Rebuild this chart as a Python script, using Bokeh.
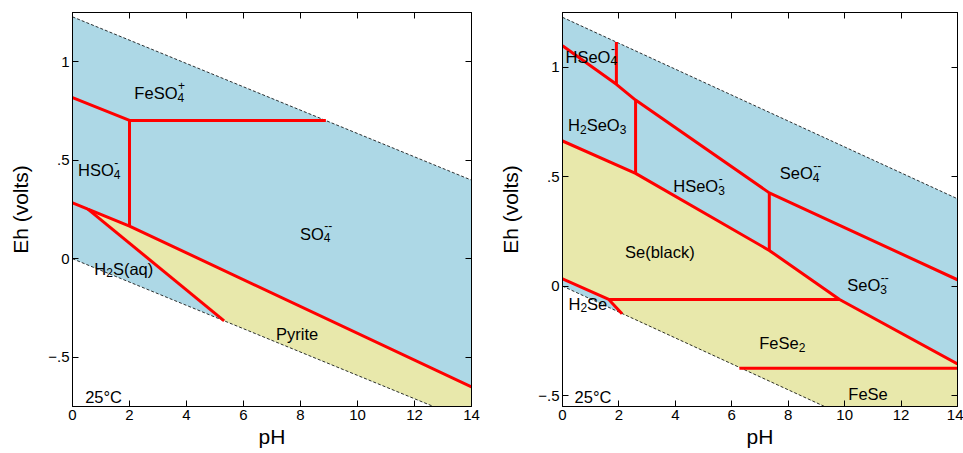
from bokeh.plotting import figure
from bokeh.layouts import row
from bokeh.models import LinearAxis, FixedTicker, Range1d
from bokeh.core.properties import value
from bokeh.embed import file_html
from bokeh.resources import INLINE

FONT = "Liberation Sans"

# ---------------- data: left diagram (Fe-S) ----------------
water_ph = [0, 14]
water_upper = [1.228, 0.399]
water_lower = [0.0, -0.829]

L_fe_ph = [0, 2, 8.89]
L_fe_eh = [0.818, 0.702, 0.702]
L_vert_ph = [2, 2]
L_vert_eh = [0.702, 0.166]
L_pyr_ph = [0, 0.54, 2, 14]
L_pyr_eh = [0.284, 0.252, 0.166, -0.651]
L_h2s_ph = [0.54, 5.32]
L_h2s_eh = [0.252, -0.315]
L_yellow_ph = [0.54, 2, 14, 14, 5.32]
L_yellow_eh = [0.252, 0.166, -0.651, -0.829, -0.315]

L_label_x = [3.05, 0.94, 8.54, 1.8, 7.88, 1.09]
L_label_y = [0.871, 0.48, 0.156, -0.02, -0.354, -0.673]
L_label_parts = [
    [("FeSO", "4", "+")],
    [("HSO", "4", "-")],
    [("SO", "4", "--")],
    [("H", "2", ""), ("S(aq)", "", "")],
    [("Pyrite", "", "")],
    [("25°C", "", "")],
]

# ---------------- data: right diagram (Fe-Se) ----------------
R_ox_ph = [0, 1.91, 2.59, 7.33, 14]
R_ox_eh = [1.098, 0.922, 0.850, 0.426, 0.029]
R_v1_ph = [1.91, 1.91]
R_v1_eh = [1.115, 0.922]
R_v2_ph = [2.59, 2.59]
R_v2_eh = [0.850, 0.515]
R_v3_ph = [7.33, 7.33]
R_v3_eh = [0.426, 0.163]
R_se_ph = [0, 2.59, 7.33, 9.82, 14]
R_se_eh = [0.663, 0.515, 0.163, -0.061, -0.355]
R_fese2_ph = [1.64, 9.82]
R_fese2_eh = [-0.061, -0.061]
R_h2se_ph = [0, 1.64, 2.11]
R_h2se_eh = [0.033, -0.061, -0.126]
R_fese_ph = [6.27, 14]
R_fese_eh = [-0.375, -0.375]
R_yellow_ph = [0, 2.59, 7.33, 9.82, 14, 14, 2.11, 1.64, 0]
R_yellow_eh = [0.663, 0.515, 0.163, -0.061, -0.355, -0.829, -0.126, -0.061, 0.033]

R_label_x = [1.02, 1.23, 4.84, 8.43, 10.82, 7.79, 10.83, 3.45, 0.90, 1.08]
R_label_y = [1.075, 0.762, 0.483, 0.542, 0.031, -0.235, -0.467, 0.181, -0.054, -0.478]
R_label_parts = [
    [("HSeO", "4", "-")],
    [("H", "2", ""), ("SeO", "3", "")],
    [("HSeO", "3", "-")],
    [("SeO", "4", "--")],
    [("SeO", "3", "--")],
    [("FeSe", "2", "")],
    [("FeSe", "", "")],
    [("Se(black)", "", "")],
    [("H", "2", ""), ("Se", "", "")],
    [("25°C", "", "")],
]

x_ticks = [0, 2, 4, 6, 8, 10, 12, 14]
y_ticks = [-0.5, 0, 0.5, 1]
y_tick_labels = {-0.5: "\u2212.5", 0: "0", 0.5: ".5", 1: "1"}

BLUE = "#ADD8E6"
YELLOW = "#E8E8AB"
RED = "#FF0000"

W = {
    'A': .667, 'B': .667, 'C': .722, 'D': .722, 'E': .667, 'F': .611, 'G': .778, 'H': .722,
    'I': .278, 'J': .5, 'K': .667, 'L': .556, 'M': .833, 'N': .722, 'O': .778, 'P': .667,
    'Q': .778, 'R': .722, 'S': .667, 'T': .611, 'U': .722, 'V': .667, 'W': .944, 'X': .667,
    'Y': .667, 'Z': .611, 'a': .556, 'b': .556, 'c': .5, 'd': .556, 'e': .556, 'f': .278,
    'g': .556, 'h': .556, 'i': .222, 'j': .222, 'k': .5, 'l': .222, 'm': .833, 'n': .556,
    'o': .556, 'p': .556, 'q': .556, 'r': .333, 's': .5, 't': .278, 'u': .556, 'v': .5,
    'w': .722, 'x': .5, 'y': .5, 'z': .5, ' ': .278, '(': .333, ')': .333, '-': .333,
    '+': .584, '°': .4, '.': .278,
}


def tw(s, size):
    return sum(W.get(c, .556) for c in s) * size


def rich(p, x, y, groups, size=16.5, small=12):
    total = 0
    for main, sub, sup in groups:
        total += tw(main, size) + max(tw(sub, small), tw(sup, small))
    cur = -total / 2
    base = size * 0.716 / 2
    kw = dict(text_font=value(FONT), text_align="left", text_baseline="alphabetic",
              text_color="black")
    for main, sub, sup in groups:
        if main:
            p.text(x=[x], y=[y], text=[main], text_font_size=f"{size}px",
                   x_offset=cur, y_offset=base, **kw)
            cur += tw(main, size)
        if sub:
            p.text(x=[x], y=[y], text=[sub], text_font_size=f"{small}px",
                   x_offset=cur, y_offset=base + 4, **kw)
        if sup:
            p.text(x=[x], y=[y], text=[sup], text_font_size=f"{small}px",
                   x_offset=cur + 0.5, y_offset=base - 8, **kw)
        cur += max(tw(sub, small), tw(sup, small))


def style_axis(ax, labels=True):
    ax.major_tick_in = 6
    ax.major_tick_out = 0
    ax.minor_tick_in = 0
    ax.minor_tick_out = 0
    ax.axis_line_color = "black"
    ax.axis_line_width = 1
    ax.major_tick_line_color = "black"
    ax.major_tick_line_width = 1
    if labels:
        ax.major_label_text_font = FONT
        ax.major_label_text_font_size = "15px"
        ax.major_label_text_color = "black"
        ax.major_label_standoff = 3
        ax.axis_label_text_font = FONT
        ax.axis_label_text_font_size = "21px"
        ax.axis_label_text_font_style = "normal"
        ax.axis_label_text_color = "black"
    else:
        ax.major_label_text_font_size = "1px"
        ax.major_label_text_color = None
        ax.major_label_standoff = 0
        ax.axis_label = None


def make_fig(width, yr, ml, mr, mt, mb):
    p = figure(width=width, height=453, x_range=Range1d(0, 14), y_range=Range1d(*yr),
               output_backend="svg", toolbar_location=None,
               min_border_left=ml, min_border_right=mr, min_border_top=mt,
               min_border_bottom=mb)
    p.grid.visible = False
    p.outline_line_color = "black"
    p.outline_line_width = 1
    p.xaxis.ticker = FixedTicker(ticks=x_ticks, minor_ticks=[])
    p.yaxis.ticker = FixedTicker(ticks=y_ticks, minor_ticks=[])
    p.yaxis.major_label_overrides = y_tick_labels
    p.xaxis.axis_label = "pH"
    p.yaxis.axis_label = "Eh (volts)"
    for ax in p.xaxis + p.yaxis:
        style_axis(ax)
    p.xaxis.axis_label_standoff = 2
    p.yaxis.axis_label_standoff = 13
    top = LinearAxis(ticker=FixedTicker(ticks=x_ticks, minor_ticks=[]))
    right = LinearAxis(ticker=FixedTicker(ticks=y_ticks, minor_ticks=[]))
    style_axis(top, labels=False)
    style_axis(right, labels=False)
    p.add_layout(top, "above")
    p.add_layout(right, "right")
    # stability field of water
    p.patch(water_ph + water_ph[::-1], water_upper + water_lower[::-1],
            fill_color=BLUE, line_color=None)
    return p


def water_lines(p):
    p.line(water_ph, water_upper, line_color="black", line_width=0.8, line_dash="3 2")
    p.line(water_ph, water_lower, line_color="black", line_width=0.8, line_dash="3 2")


# ---------------- left ----------------
p1 = make_fig(480, (-0.75, 1.25), 72, 9, 8, 47)
p1.patch(L_yellow_ph, L_yellow_eh, fill_color=YELLOW, line_color=None)
water_lines(p1)
for xs, ys in [(L_fe_ph, L_fe_eh), (L_vert_ph, L_vert_eh), (L_pyr_ph, L_pyr_eh),
               (L_h2s_ph, L_h2s_eh)]:
    p1.line(xs, ys, line_color=RED, line_width=3)
for x, y, parts in zip(L_label_x, L_label_y, L_label_parts):
    rich(p1, x, y, parts)

# ---------------- right ----------------
p2 = make_fig(483, (-0.55, 1.25), 82, 6, 12, 47)
p2.patch(R_yellow_ph, R_yellow_eh, fill_color=YELLOW, line_color=None)
water_lines(p2)
for xs, ys in [(R_ox_ph, R_ox_eh), (R_v1_ph, R_v1_eh), (R_v2_ph, R_v2_eh),
               (R_v3_ph, R_v3_eh), (R_se_ph, R_se_eh), (R_fese2_ph, R_fese2_eh),
               (R_h2se_ph, R_h2se_eh), (R_fese_ph, R_fese_eh)]:
    p2.line(xs, ys, line_color=RED, line_width=3)
for x, y, parts in zip(R_label_x, R_label_y, R_label_parts):
    rich(p2, x, y, parts)

layout = row(p1, p2)
open("out.html", "w").write(file_html(layout, INLINE))
